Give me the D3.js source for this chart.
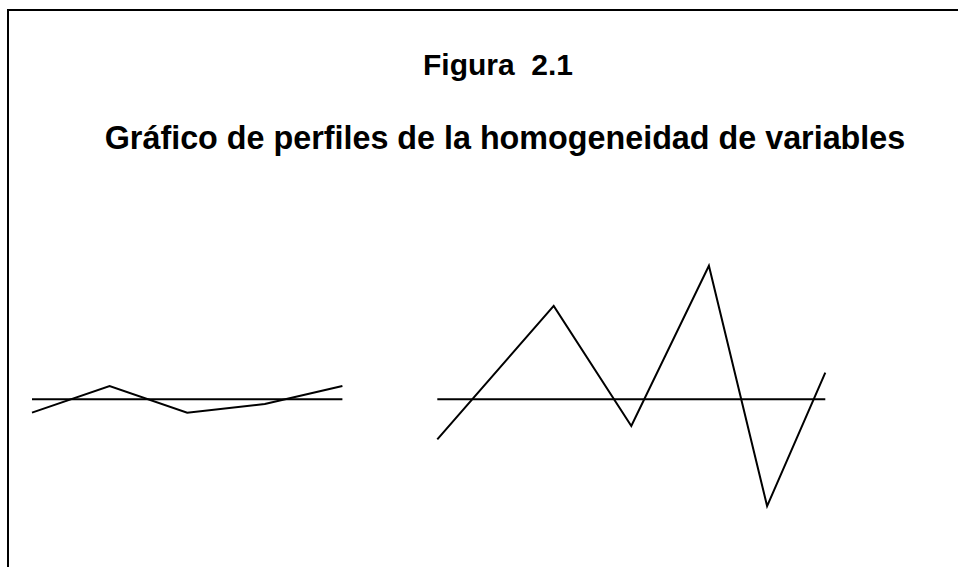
<!DOCTYPE html>
<html>
<head>
<meta charset="utf-8">
<script src="https://cdn.jsdelivr.net/npm/d3@7/dist/d3.min.js"></script>
<style>
  html, body { margin: 0; padding: 0; background: #fff; }
  svg { display: block; }
</style>
</head>
<body>
<svg id="chart" width="958" height="567"></svg>
<script>
// ---- data ----
const titleText = "Figura  2.1";
const subtitleText = "Gráfico de perfiles de la homogeneidad de variables";
// left profile (x positions in common units, y deviations)
const leftX = [0, 4, 8, 12, 16];
const leftY = [-1, 1, -1, -0.35, 1];
// right profile
const rightX = [0, 6, 10, 14, 17, 20];
const rightY = [-3, 7, -2, 10, -8, 2];
// reference (mean) levels
const baseLevel = 0;

// ---- drawing ----
const svg = d3.select("#chart");

// frame (left and top edges only visible)
svg.append("path")
  .attr("d", "M8,567 L8,10 L970,10")
  .attr("fill", "none")
  .attr("stroke", "#000")
  .attr("stroke-width", 2);

svg.append("text")
  .attr("x", 498).attr("y", 75)
  .attr("text-anchor", "middle")
  .attr("font-family", "'Liberation Sans', Arial, sans-serif")
  .attr("font-weight", "bold")
  .attr("font-size", 30)
  .attr("xml:space", "preserve")
  .style("white-space", "pre")
  .text(titleText);

svg.append("text")
  .attr("x", 505).attr("y", 149)
  .attr("text-anchor", "middle")
  .attr("font-family", "'Liberation Sans', Arial, sans-serif")
  .attr("font-weight", "bold")
  .attr("font-size", 32.3)
  .text(subtitleText);

const y = d3.scaleLinear().domain([-10, 10]).range([532.8, 265.8]);
const xLeft = d3.scaleLinear().domain([0, 20]).range([32, 420]);
const xRight = d3.scaleLinear().domain([0, 20]).range([437.3, 825.3]);

function panel(xs, ys, xScale) {
  const g = svg.append("g");
  const line = d3.line().x(d => xScale(d[0])).y(d => y(d[1]));
  const ext = d3.extent(xs);
  g.append("path")
    .attr("d", line([[ext[0], baseLevel], [ext[1], baseLevel]]))
    .attr("fill", "none").attr("stroke", "#000").attr("stroke-width", 2);
  g.append("path")
    .attr("d", line(xs.map((v, i) => [v, ys[i]])))
    .attr("fill", "none").attr("stroke", "#000").attr("stroke-width", 2)
    .attr("stroke-linejoin", "miter");
}
panel(leftX, leftY, xLeft);
panel(rightX, rightY, xRight);
</script>
</body>
</html>
